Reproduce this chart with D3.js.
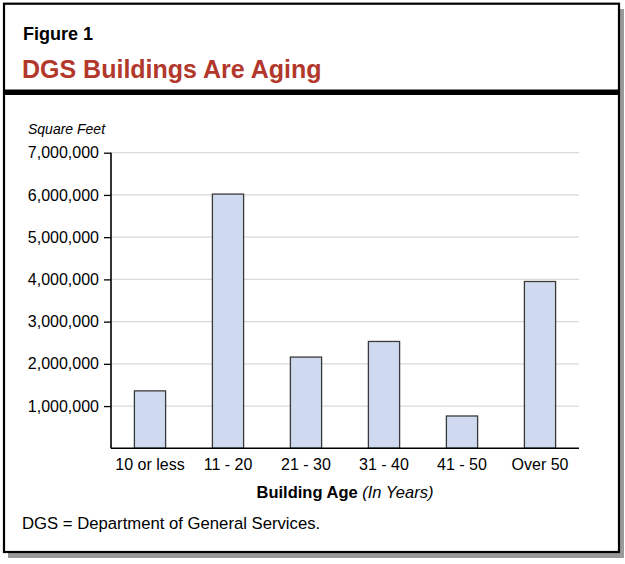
<!DOCTYPE html>
<html>
<head>
<meta charset="utf-8">
<script src="https://cdn.jsdelivr.net/npm/d3@7"></script>
<style>
  html, body { margin: 0; padding: 0; background: #fff; }
  svg { display: block; font-family: "Liberation Sans", Arial, Helvetica, sans-serif; }
</style>
</head>
<body>
<svg id="chart" width="625" height="564"></svg>
<script>
const categories = ["10 or less", "11 - 20", "21 - 30", "31 - 40", "41 - 50", "Over 50"];
const squareFeet = [1360000, 6020000, 2160000, 2530000, 765000, 3950000];
const yTicks = [1000000, 2000000, 3000000, 4000000, 5000000, 6000000, 7000000];
const figureLabel = "Figure 1";
const titleText = "DGS Buildings Are Aging";
const yAxisTitle = "Square Feet";
const xAxisTitleBold = "Building Age ";
const xAxisTitleItalic = "(In Years)";
const footnote = "DGS = Department of General Services.";

(function () {
const svg = d3.select("#chart");

// frame with drop shadow
svg.append("rect").attr("x", 8).attr("y", 9).attr("width", 616).attr("height", 549).attr("fill", "#9a9a9a");
svg.append("rect").attr("x", 4).attr("y", 3.7).attr("width", 615).attr("height", 548.3)
  .attr("fill", "#fff").attr("stroke", "#000").attr("stroke-width", 2.2);
svg.append("rect").attr("x", 4).attr("y", 89.5).attr("width", 615).attr("height", 5.5).attr("fill", "#000");

// header
svg.append("text").attr("x", 23).attr("y", 40).attr("font-size", 18).attr("font-weight", "bold")
  .attr("fill", "#000").text(figureLabel);
svg.append("text").attr("x", 22).attr("y", 77.5).attr("font-size", 25).attr("font-weight", "bold")
  .attr("fill", "#b3382c").text(titleText);

// scales
const pLeft = 111, pRight = 579, pTop = 152.7, pBottom = 448.3;
const x = d3.scaleBand().domain(categories).range([pLeft, pRight]).paddingInner(0.6).paddingOuter(0.3);
const y = d3.scaleLinear().domain([0, 7000000]).range([pBottom, pTop]);

// gridlines
svg.append("g").selectAll("line").data(yTicks).join("line")
  .attr("x1", pLeft).attr("x2", pRight)
  .attr("y1", d => y(d)).attr("y2", d => y(d))
  .attr("stroke", "#d9d9d9").attr("stroke-width", 1.3);

// y axis title
svg.append("text").attr("x", 28).attr("y", 134).attr("font-size", 14).attr("font-style", "italic")
  .attr("fill", "#000").text(yAxisTitle);

// bars
svg.append("g").selectAll("rect").data(categories).join("rect")
  .attr("x", d => x(d)).attr("width", x.bandwidth())
  .attr("y", (d, i) => y(squareFeet[i]))
  .attr("height", (d, i) => y(0) - y(squareFeet[i]))
  .attr("fill", "#cfdaf0").attr("stroke", "#3a3a3a").attr("stroke-width", 1.3);

// y axis
const yAxis = svg.append("g").attr("transform", `translate(${pLeft},0)`)
  .call(d3.axisLeft(y).tickValues(yTicks).tickFormat(d3.format(",")).tickSize(7).tickPadding(5));
yAxis.select(".domain").attr("d", `M0,${pTop}V${pBottom}`).attr("stroke", "#000").attr("stroke-width", 1.6);
yAxis.selectAll(".tick line").attr("stroke", "#000").attr("stroke-width", 1.3);
yAxis.selectAll(".tick text").attr("font-size", 16).attr("fill", "#000")
  .attr("font-family", "'Liberation Sans', Arial, sans-serif");

// x axis
const xAxis = svg.append("g").attr("transform", `translate(0,${pBottom})`)
  .call(d3.axisBottom(x).tickSize(0).tickPadding(10));
xAxis.select(".domain").attr("d", `M${pLeft},0H${pRight}`).attr("stroke", "#000").attr("stroke-width", 1.6);
xAxis.selectAll(".tick text").attr("font-size", 16).attr("fill", "#000")
  .attr("font-family", "'Liberation Sans', Arial, sans-serif");

// x axis title
const xt = svg.append("text").attr("x", (pLeft + pRight) / 2).attr("y", 498).attr("text-anchor", "middle")
  .attr("font-size", 16.5).attr("fill", "#000");
xt.append("tspan").attr("font-weight", "bold").text(xAxisTitleBold);
xt.append("tspan").attr("font-style", "italic").text(xAxisTitleItalic);

// footnote
svg.append("text").attr("x", 22).attr("y", 529).attr("font-size", 16.7).attr("fill", "#000").text(footnote);
})();
</script>
</body>
</html>
